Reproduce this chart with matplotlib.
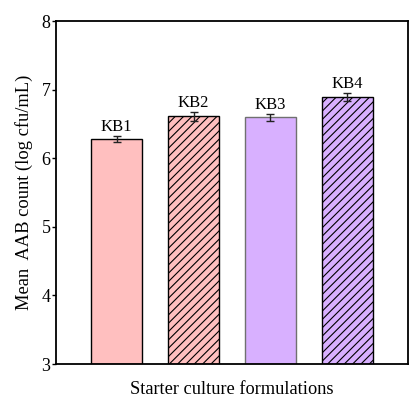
import matplotlib.pyplot as plt

# data
labels = ["KB1", "KB2", "KB3", "KB4"]
means = [6.28, 6.61, 6.60, 6.89]
errors = [0.05, 0.07, 0.05, 0.06]
colors = ["#FFBFBF", "#FFBFBF", "#D8B0FF", "#D8B0FF"]
hatches = ["", "////", "", "////"]
edges = ["black", "black", "#707070", "black"]
yticks = [3, 4, 5, 6, 7, 8]

plt.rcParams['font.family'] = ['Liberation Serif', 'DejaVu Serif']
plt.rcParams['hatch.linewidth'] = 0.8

fig = plt.figure(figsize=(4.09, 3.98), dpi=100)
ax = fig.add_axes([0.137, 0.0854, 0.8606, 0.8616])

x = list(range(len(labels)))
for i in x:
    ax.bar(i, means[i] - 3, bottom=3, width=0.66, color=colors[i],
           edgecolor=edges[i], linewidth=1.0, hatch=hatches[i], zorder=2)
    ax.errorbar(i, means[i], yerr=errors[i], fmt='none', ecolor='#222222',
                elinewidth=1.0, capsize=3, capthick=1.0, zorder=3)
    ax.text(i, means[i] + errors[i] + 0.01, labels[i], ha='center', va='bottom',
            fontsize=12)

ax.set_xlim(-0.79, 3.79)
ax.set_ylim(3, 8)
ax.set_yticks(yticks)
ax.set_xticks([])
ax.tick_params(axis='y', direction='out', length=3, width=1, labelsize=13, pad=1)
for s in ax.spines.values():
    s.set_linewidth(1.3)

ax.set_ylabel("Mean  AAB count (log cfu/mL)", fontsize=13.3, labelpad=6)
ax.set_xlabel("Starter culture formulations", fontsize=13.2, labelpad=12)

fig.savefig("out.png", dpi=100)
